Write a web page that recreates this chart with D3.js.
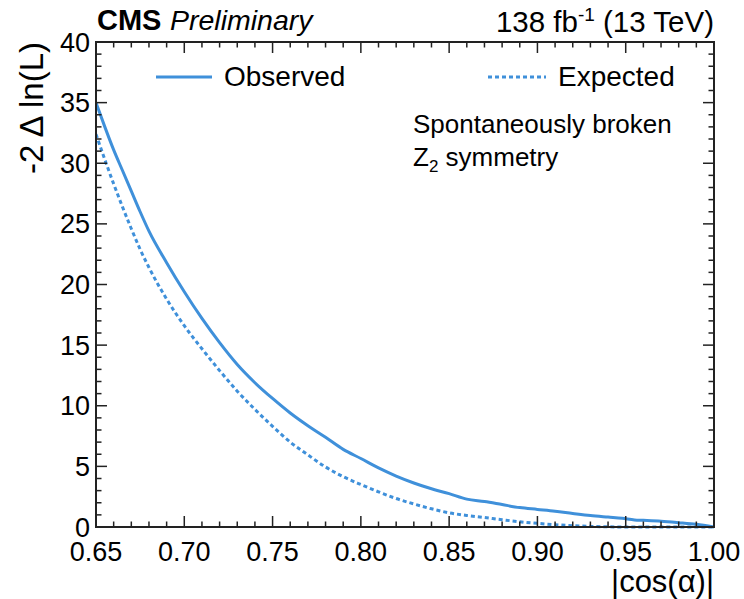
<!DOCTYPE html>
<html>
<head>
<meta charset="utf-8">
<script src="https://cdn.jsdelivr.net/npm/d3@7"></script>
<style>
  html, body { margin: 0; padding: 0; background: #fff; }
  svg text { font-family: "Liberation Sans", Arial, Helvetica, sans-serif; fill: #000; }
</style>
</head>
<body>
<svg id="chart" width="744" height="599"></svg>
<script>
// Likelihood scan in |cos(alpha)|, spontaneously broken Z2 symmetry
const cosAlpha = [0.650, 0.655, 0.660, 0.665, 0.670, 0.675, 0.680, 0.690, 0.700, 0.710,
                  0.720, 0.730, 0.740, 0.750, 0.760, 0.770, 0.780, 0.790, 0.800, 0.810,
                  0.820, 0.830, 0.840, 0.850, 0.860, 0.870, 0.880, 0.890, 0.900, 0.910,
                  0.920, 0.930, 0.940, 0.948, 0.955, 0.960, 0.970, 0.980, 0.990, 1.000];
const observed = [35.0, 33.0, 31.1, 29.4, 27.7, 26.0, 24.4, 21.8, 19.4, 17.2,
                  15.2, 13.4, 11.9, 10.6, 9.4, 8.35, 7.4, 6.4, 5.65, 4.87,
                  4.2, 3.63, 3.15, 2.75, 2.3, 2.1, 1.85, 1.6, 1.45, 1.3,
                  1.12, 0.95, 0.82, 0.72, 0.58, 0.55, 0.48, 0.36, 0.22, 0.0];
const cosAlphaExp = [0.650, 0.655, 0.660, 0.665, 0.670, 0.675, 0.680, 0.690, 0.700, 0.710,
                     0.720, 0.730, 0.740, 0.750, 0.760, 0.770, 0.780, 0.790, 0.800, 0.810,
                     0.820, 0.830, 0.840, 0.850, 0.860, 0.870, 0.880, 0.890, 0.900, 0.910,
                     0.920, 0.930, 0.940, 0.950, 1.000];
const expected = [32.4, 30.3, 28.3, 26.4, 24.6, 22.9, 21.4, 18.8, 16.6, 14.7,
                  12.9, 11.2, 9.7, 8.3, 7.0, 5.95, 4.95, 4.15, 3.5, 2.9,
                  2.35, 1.9, 1.5, 1.17, 0.95, 0.78, 0.6, 0.43, 0.3, 0.19,
                  0.11, 0.05, 0.015, 0.0, 0.0];
const xTicks = [0.65, 0.70, 0.75, 0.80, 0.85, 0.90, 0.95, 1.00];
const yTicks = [0, 5, 10, 15, 20, 25, 30, 35, 40];

const svg = d3.select("#chart");
const m = { left: 96, right: 714, top: 42, bottom: 527 };
const lineColor = "#3f90da";

const x = d3.scaleLinear().domain([0.65, 1.0]).range([m.left, m.right]);
const y = d3.scaleLinear().domain([0, 40]).range([m.bottom, m.top]);

const plot = svg.append("g");

// curves, clipped to the frame
svg.append("clipPath").attr("id", "clip")
  .append("rect").attr("x", m.left).attr("y", m.top)
  .attr("width", m.right - m.left).attr("height", m.bottom - m.top + 2);

const line = d3.line().curve(d3.curveMonotoneX).x(d => x(d[0])).y(d => y(d[1]));
plot.append("path")
  .datum(d3.zip(cosAlphaExp, expected))
  .attr("clip-path", "url(#clip)")
  .attr("d", line)
  .attr("fill", "none").attr("stroke", lineColor)
  .attr("stroke-width", 3).attr("stroke-dasharray", "4,3");
plot.append("path")
  .datum(d3.zip(cosAlpha, observed))
  .attr("clip-path", "url(#clip)")
  .attr("d", line)
  .attr("fill", "none").attr("stroke", lineColor)
  .attr("stroke-width", 3);

// frame with inward ticks on all sides
const axisColor = "#222";
const minorX = d3.range(65, 101).map(v => v / 100);
const minorY = d3.range(0, 41);
const xMajorSet = new Set(xTicks.map(v => Math.round(v * 100)));

const ticks = svg.append("g").attr("stroke", axisColor).attr("stroke-width", 1.5);
minorX.forEach(v => {
  const len = xMajorSet.has(Math.round(v * 100)) ? 11 : 5.5;
  ticks.append("line").attr("x1", x(v)).attr("x2", x(v)).attr("y1", m.bottom).attr("y2", m.bottom - len);
  ticks.append("line").attr("x1", x(v)).attr("x2", x(v)).attr("y1", m.top).attr("y2", m.top + len);
});
minorY.forEach(v => {
  const len = v % 5 === 0 ? 11 : 5.5;
  ticks.append("line").attr("y1", y(v)).attr("y2", y(v)).attr("x1", m.left).attr("x2", m.left + len);
  ticks.append("line").attr("y1", y(v)).attr("y2", y(v)).attr("x1", m.right).attr("x2", m.right - len);
});
svg.append("rect")
  .attr("x", m.left).attr("y", m.top)
  .attr("width", m.right - m.left).attr("height", m.bottom - m.top)
  .attr("fill", "none").attr("stroke", axisColor).attr("stroke-width", 2);

// tick labels
svg.append("g").selectAll("text").data(xTicks).join("text")
  .attr("x", d => x(d)).attr("y", 561)
  .attr("text-anchor", "middle").attr("font-size", 27)
  .text(d => d3.format(".2f")(d));
svg.append("g").selectAll("text").data(yTicks).join("text")
  .attr("x", 90).attr("y", d => y(d) + 9.6)
  .attr("text-anchor", "end").attr("font-size", 27)
  .text(d => d);

// axis titles
svg.append("text")
  .attr("x", m.right).attr("y", 592)
  .attr("text-anchor", "end").attr("font-size", 31)
  .text("|cos(α)|");
svg.append("text")
  .attr("transform", `translate(43,${m.top}) rotate(-90)`)
  .attr("text-anchor", "end").attr("font-size", 33)
  .text("-2 Δ ln(L)");

// header
svg.append("text").attr("x", 97).attr("y", 30)
  .attr("font-size", 29).attr("font-weight", "bold").text("CMS");
svg.append("text").attr("x", 170).attr("y", 30)
  .attr("font-size", 28.5).attr("font-style", "italic").text("Preliminary");
const lumi = svg.append("text").attr("x", m.right).attr("y", 32)
  .attr("text-anchor", "end").attr("font-size", 29.5);
lumi.append("tspan").text("138 fb");
lumi.append("tspan").attr("font-size", 19).attr("dy", -11).text("-1");
lumi.append("tspan").attr("dy", 11).text(" (13 TeV)");

// legend
svg.append("line").attr("x1", 156).attr("x2", 212).attr("y1", 77).attr("y2", 77)
  .attr("stroke", lineColor).attr("stroke-width", 3);
svg.append("text").attr("x", 224).attr("y", 86).attr("font-size", 28).text("Observed");
svg.append("line").attr("x1", 488).attr("x2", 546).attr("y1", 77).attr("y2", 77)
  .attr("stroke", lineColor).attr("stroke-width", 3).attr("stroke-dasharray", "4,3");
svg.append("text").attr("x", 558).attr("y", 86).attr("font-size", 28).text("Expected");

// model annotation
svg.append("text").attr("x", 413).attr("y", 133).attr("font-size", 26).text("Spontaneously broken");
const z2 = svg.append("text").attr("x", 413).attr("y", 166).attr("font-size", 26);
z2.append("tspan").text("Z");
z2.append("tspan").attr("font-size", 17).attr("dy", 6).text("2");
z2.append("tspan").attr("dy", -6).text(" symmetry");
</script>
</body>
</html>
